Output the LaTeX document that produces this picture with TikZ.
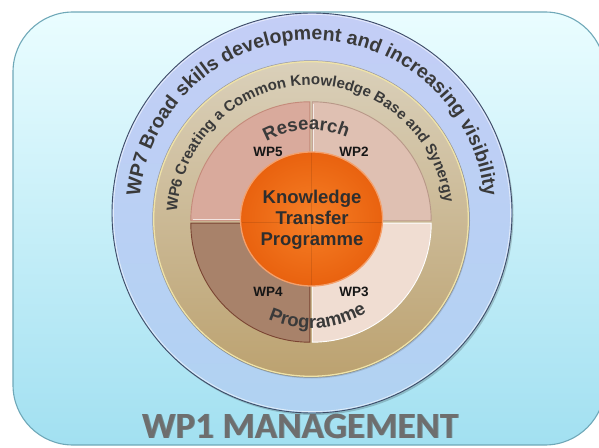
\documentclass[tikz,border=0pt]{standalone}
\usepackage{fontspec}
\setmainfont{Liberation Sans}
\newfontfamily\mgmtfont{Carlito}
\usetikzlibrary{decorations.text}

\definecolor{bgtop}{HTML}{EAFDFF}
\definecolor{bgmid}{HTML}{C9F7FD}
\definecolor{bgbot}{HTML}{A2E0F1}
\definecolor{bgedge}{HTML}{6FA8B8}
\definecolor{blueTop}{HTML}{C4CEF6}
\definecolor{blueBot}{HTML}{B0D2F2}
\definecolor{blueEdge}{HTML}{3E4C66}
\definecolor{tanTop}{HTML}{DAD0BA}
\definecolor{tanBot}{HTML}{BCA270}
\definecolor{tanEdge}{HTML}{EFE3A8}
\definecolor{qTL}{HTML}{D9AA9C}
\definecolor{qTR}{HTML}{DFC0B2}
\definecolor{qBL}{HTML}{A8826A}
\definecolor{qBR}{HTML}{F0DDD2}
\definecolor{qTLe}{HTML}{C48A7A}
\definecolor{qTRe}{HTML}{B89888}
\definecolor{qBLe}{HTML}{7A4432}
\definecolor{orIn}{HTML}{F67F26}
\definecolor{orOut}{HTML}{E9620F}
\definecolor{orEdge}{HTML}{F4A06C}
\definecolor{ink}{HTML}{3A3A3A}
\definecolor{labelink}{HTML}{161616}
\definecolor{mgmt}{HTML}{6E6E6E}
\definecolor{mgmtshade}{HTML}{454545}

\newcommand\wpsevenfont{\fontsize{19.5}{20}\selectfont\bfseries}
\newcommand\wpsixfont{\fontsize{15}{16}\selectfont\bfseries}
\newcommand\arcwordfont{\fontsize{18.5}{19}\selectfont\bfseries}

\tikzset{
  quadrant/.style={line width=0.9pt},
  wplabel/.style={font=\fontsize{13.5}{14}\selectfont\bfseries, text=labelink, inner sep=0pt},
  ringtext/.style={decorate, decoration={text along path, text align=center, text color=ink, text={#1}}},
}

\begin{document}
\begin{tikzpicture}[x=1pt,y=1pt]
\useasboundingbox (0,0) rectangle (599,447);
\clip (0,0) rectangle (599,447);

% background panel
\draw[bgedge, line width=1.1pt, top color=bgtop, middle color=bgmid, bottom color=bgbot, rounded corners=60pt]
  (13,2) rectangle (605,435);

% centres of the rings
\coordinate (cb) at (312,234);
\coordinate (ct) at (311,228);
\coordinate (ci) at (311,225);
\coordinate (co) at (311.5,228);

% WP7 ring
\fill[black, opacity=.18] ([shift={(1.5,-2)}]cb) circle[radius=200pt];
\shade[top color=blueTop, bottom color=blueBot] (cb) circle[radius=200pt];
\draw[blueEdge, line width=0.9pt] (cb) circle[radius=200pt];
\draw[white, opacity=.6, line width=0.8pt] (cb) circle[radius=198.6pt];

% WP6 ring
\fill[black, opacity=.12] ([shift={(1,-1.5)}]ct) circle[radius=158pt];
\shade[top color=tanTop, bottom color=tanBot] (ct) circle[radius=158pt];
\draw[tanEdge, line width=1.3pt] (ct) circle[radius=157.3pt];
\draw[black!35!tanBot, opacity=.5, line width=0.5pt] (ct) circle[radius=158.4pt];

% four quadrants of the inner disc
\filldraw[quadrant, fill=qTL, draw=qTLe] ([shift={(-1.2,1.2)}]ci) -- ++(180:119pt) arc[start angle=180, end angle=90, radius=119pt] -- cycle;
\filldraw[quadrant, fill=qTR, draw=qTRe] ([shift={(1.2,1.2)}]ci) -- ++(90:119pt) arc[start angle=90, end angle=0, radius=119pt] -- cycle;
\filldraw[quadrant, fill=qBL, draw=qBLe] ([shift={(-1.2,-1.2)}]ci) -- ++(270:119pt) arc[start angle=270, end angle=180, radius=119pt] -- cycle;
\filldraw[quadrant, fill=qBR, draw=white] ([shift={(1.2,-1.2)}]ci) -- ++(0:119pt) arc[start angle=0, end angle=-90, radius=119pt] -- cycle;
\draw[white, opacity=.7, line width=0.7pt] ([shift={(-2.4,2.4)}]ci) -- ++(180:116pt);
\draw[white, opacity=.7, line width=0.7pt] ([shift={(2.4,2.4)}]ci) -- ++(90:116pt);

% central disc
\shade[inner color=orIn, outer color=orOut] (co) ellipse[x radius=71pt, y radius=67pt];
\draw[orEdge, line width=1.3pt] (co) ellipse[x radius=71pt, y radius=67pt];
\draw[black, opacity=.10, line width=0.8pt] ([shift={(-70,-3)}]co) -- ([shift={(70,-3)}]co);
\draw[black, opacity=.10, line width=0.8pt] ([shift={(-0.5,66)}]co) -- ([shift={(-0.5,-66)}]co);

% texts along the rings
\path[ringtext={|\wpsevenfont|WP7 Broad skills development and increasing visibility}]
  ([shift={(185:173pt)}]cb) arc[start angle=185, end angle=-5, radius=173pt];
\path[ringtext={|\wpsixfont|WP6 Creating a Common Knowledge Base and Synergy}]
  ([shift={(187:134pt)}]ct) arc[start angle=187, end angle=-3, radius=134pt];
\path[ringtext={|\arcwordfont|Research}]
  ([shift={(150:92pt)}]ci) arc[start angle=150, end angle=36, radius=92pt];
\path[ringtext={|\arcwordfont|Programme}]
  ([shift={(204:106pt)}]ci) arc[start angle=204, end angle=344, radius=106pt];

% quadrant labels
\node[wplabel] (wp5) at (268,295) {WP5};
\node[wplabel] (wp2) at (354,295) {WP2};
\node[wplabel] (wp4) at (268,155) {WP4};
\node[wplabel] (wp3) at (354,155) {WP3};

% centre title
\node[align=center, inner sep=0pt, text=ink!80!black, font=\fontsize{18.5}{21}\selectfont\bfseries] (ktp) at (312,227)
  {Knowledge\\Transfer\\Programme};

% management banner
\node[anchor=base, inner sep=0pt, text=mgmtshade, opacity=.55, font=\mgmtfont\bfseries\fontsize{37}{37}\selectfont] (mgmtshadow) at (301,8.2) {WP1 MANAGEMENT};
\node[anchor=base, inner sep=0pt, text=mgmt, font=\mgmtfont\bfseries\fontsize{37}{37}\selectfont] (mgmt) at (300,9) {WP1 MANAGEMENT};
\end{tikzpicture}
\end{document}
